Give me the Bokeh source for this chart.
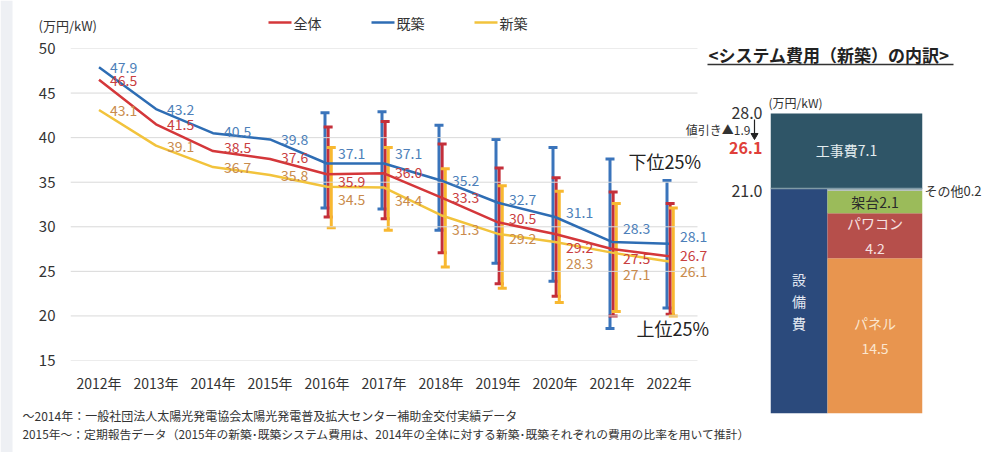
from bokeh.plotting import figure
from bokeh.models import (FactorRange, Range1d, ColumnDataSource, Whisker, TeeHead,
                          GridBox, FixedTicker)
from bokeh.transform import dodge
from bokeh.core.properties import value
from bokeh.embed import file_html
from bokeh.resources import INLINE

# ---------------- data ----------------
years = ["2012年", "2013年", "2014年", "2015年", "2016年", "2017年",
         "2018年", "2019年", "2020年", "2021年", "2022年"]
total = [46.5, 41.5, 38.5, 37.6, 35.9, 36.0, 33.3, 30.5, 29.2, 27.5, 26.7]      # 全体
existing = [47.9, 43.2, 40.5, 39.8, 37.1, 37.1, 35.2, 32.7, 31.1, 28.3, 28.1]   # 既築
new = [43.1, 39.1, 36.7, 35.8, 34.5, 34.4, 31.3, 29.2, 28.3, 27.1, 26.1]        # 新築
series_names = ["全体", "既築", "新築"]

err_years = years[4:]
existing_hi = [42.8, 42.9, 41.4, 39.8, 38.9, 37.6, 35.2]
existing_lo = [32.1, 32.0, 29.6, 25.9, 23.9, 18.6, 20.9]
total_hi = [41.2, 41.8, 39.3, 36.6, 35.5, 33.9, 32.6]
total_lo = [31.1, 30.9, 27.1, 23.6, 22.2, 20.0, 20.2]
new_hi = [38.9, 38.9, 36.5, 34.6, 34.0, 32.6, 32.1]
new_lo = [29.9, 29.6, 25.5, 23.1, 21.5, 20.5, 20.0]

y_ticks = [15, 20, 25, 30, 35, 40, 45, 50]

# label vertical nudges (pixels, downward)
existing_dy = [0, 0, -2, 0, -10, -10, 0, -3, -4, -13, -7]
total_dy = [1, 0, -4, -2, 7, -1, 0, -4, 14, 9, -1]
new_dy = [0, 1, 0, 0, 13, 13, 14, 5, 22, 22, 10]

# breakdown (new build system cost)
parts = ["パネル", "パワコン", "架台", "その他"]
part_values = [14.5, 4.2, 2.1, 0.2]
construction = 7.1
before_discount = 28.0
discount = 1.9
after_discount = 26.1
equipment = 21.0

FONT = "Noto Sans CJK JP"
W, H = 984, 452

C_BLUE, C_RED, C_YEL = "#2e6db4", "#d4373a", "#f2c33c"
E_BLUE, E_RED, E_YEL = "#3a74bb", "#c42f3a", "#f8b830"
L_BLUE, L_RED, L_YEL = "#4d7fb9", "#c9403f", "#c98b4c"

# ---------------- main chart ----------------
# one blank slot after the last year leaves room for the last value labels
p = figure(width=W, height=H, x_range=FactorRange(factors=years + [" "]), y_range=Range1d(15, 50),
           output_backend="svg", toolbar_location=None,
           min_border_left=70, min_border_right=W - 754, min_border_top=48, min_border_bottom=H - 360,
           background_fill_color=None, border_fill_color="white")
p.frame_align = False
p.outline_line_color = None
p.grid.visible = False
p.yaxis.ticker = FixedTicker(ticks=y_ticks)
for ax in (p.xaxis, p.yaxis):
    ax.axis_line_color = None
    ax.major_tick_line_color = None
    ax.minor_tick_line_color = None
    ax.major_label_text_font = FONT
    ax.major_label_text_color = "#333333"
p.yaxis.major_label_text_font_size = "15px"
p.yaxis.major_label_standoff = 9
p.xaxis.major_label_text_font_size = "14px"
p.xaxis.major_label_standoff = 6

# horizontal gridlines spanning the year slots only
gsrc = ColumnDataSource(dict(a=[years[0]] * len(y_ticks), b=[years[-1]] * len(y_ticks), y=y_ticks))
p.segment(x0=dodge("a", -0.5, range=p.x_range), x1=dodge("b", 0.5, range=p.x_range),
          y0="y", y1="y", source=gsrc, line_color="#d9d9d9", line_width=1)

src = ColumnDataSource(dict(year=years, total=total, existing=existing, new=new,
                            edy=existing_dy, tdy=total_dy, ndy=new_dy,
                            etxt=[f"{v:.1f}" for v in existing],
                            ttxt=[f"{v:.1f}" for v in total],
                            ntxt=[f"{v:.1f}" for v in new]))

p.line("year", "total", source=src, line_color=C_RED, line_width=2.5)
p.line("year", "existing", source=src, line_color=C_BLUE, line_width=2.5)
p.line("year", "new", source=src, line_color=C_YEL, line_width=2.5)

esrc = ColumnDataSource(dict(year=err_years, ehi=existing_hi, elo=existing_lo,
                             thi=total_hi, tlo=total_lo, nhi=new_hi, nlo=new_lo))
for hi, lo, col, off in (("ehi", "elo", E_BLUE, -0.035), ("thi", "tlo", E_RED, 0.02),
                         ("nhi", "nlo", E_YEL, 0.075)):
    w = Whisker(source=esrc, base=dodge("year", off, range=p.x_range), upper=hi, lower=lo,
                line_color=col, line_width=3,
                upper_head=TeeHead(size=9, line_color=col, line_width=3),
                lower_head=TeeHead(size=9, line_color=col, line_width=3))
    p.add_layout(w)

for col_txt, col_val, col_dy, colr in (("etxt", "existing", "edy", L_BLUE),
                                       ("ttxt", "total", "tdy", L_RED),
                                       ("ntxt", "new", "ndy", L_YEL)):
    p.text(x="year", y=col_val, text=col_txt, source=src, x_offset=11, y_offset=col_dy,
           text_font=value(FONT), text_font_size="14px", text_color=colr,
           text_align="left", text_baseline="middle")

# ---------------- breakdown bar (transparent overlay figure) ----------------
pb = figure(width=W, height=H, x_range=Range1d(0, 1), y_range=Range1d(0, before_discount),
            x_axis_type=None, y_axis_type=None, output_backend="svg", toolbar_location=None,
            min_border_left=770, min_border_right=W - 922, min_border_top=113, min_border_bottom=H - 413,
            background_fill_color=None, border_fill_color=None)
pb.frame_align = False
pb.outline_line_color = None
pb.grid.visible = False

split = 57 / 152
bottoms = []
acc = 0.0
for v in part_values:
    bottoms.append(acc)
    acc += v
tops = [b + v for b, v in zip(bottoms, part_values)]
part_colors = ["#e8954f", "#b64f4b", "#9bbb5a", "#a9b4b8"]

pb.quad(left=[0], right=[split], bottom=[0], top=[equipment], fill_color="#2b4a7c", line_color=None)
pb.quad(left=[split] * 4, right=[1] * 4, bottom=bottoms, top=tops, fill_color=part_colors, line_color=None)
pb.quad(left=[0], right=[1], bottom=[equipment], top=[equipment + construction],
        fill_color="#2f5567", line_color=None)
pb.segment(x0=[0], x1=[1], y0=[equipment], y1=[equipment], line_color="#7f9aa6", line_width=1.5)

mid = (split + 1) / 2
pb.text(x=[0.5], y=[equipment + construction / 2], text=[f"工事費{construction}"],
        text_font=value(FONT), text_font_size="14px", text_color="#e3ecef",
        text_align="center", text_baseline="middle")
pb.text(x=[mid], y=[(bottoms[2] + tops[2]) / 2], text=[f"{parts[2]}{part_values[2]}"],
        text_font=value(FONT), text_font_size="14px", text_color="#2a2a2a",
        text_align="center", text_baseline="middle")
pb.text(x=[mid], y=[(bottoms[1] + tops[1]) / 2], text=[f"{parts[1]}\n{part_values[1]}"],
        text_font=value(FONT), text_font_size="14px", text_color="#f6e2e2",
        text_align="center", text_baseline="middle", text_line_height=1.25)
pb.text(x=[mid], y=[(bottoms[0] + tops[0]) / 2], text=[f"{parts[0]}\n{part_values[0]}"],
        text_font=value(FONT), text_font_size="14px", text_color="#fbe6cf",
        text_align="center", text_baseline="middle", text_line_height=1.25)
pb.text(x=[split / 2], y=[equipment / 2], text=["設\n備\n費"],
        text_font=value(FONT), text_font_size="14px", text_color="#e3e9f2",
        text_align="center", text_baseline="middle", text_line_height=1.1)

# ---------------- annotation layer (page-pixel frame, transparent) ----------------
pt = figure(width=W, height=H, x_range=Range1d(0, W), y_range=Range1d(H, 0),
            x_axis_type=None, y_axis_type=None, output_backend="svg", toolbar_location=None,
            min_border=0, min_border_left=0, min_border_right=0, min_border_top=0, min_border_bottom=0,
            background_fill_color=None, border_fill_color=None)
pt.frame_align = False
pt.outline_line_color = None
pt.grid.visible = False


def lab(x, y, text, size, color="#333333", align="left", style="normal"):
    pt.text(x=[x], y=[y], text=[text], text_font=value(FONT), text_font_size=size,
            text_color=color, text_align=align, text_baseline="middle", text_font_style=style)


# side strip of the page frame
pt.quad(left=[0], right=[12], bottom=[H], top=[0], fill_color="#eef0f4", line_color=None)

# legend
for lx, name, colr in ((268, series_names[0], C_RED), (371, series_names[1], C_BLUE),
                       (474, series_names[2], C_YEL)):
    pt.segment(x0=[lx], x1=[lx + 23], y0=[22], y1=[22], line_color=colr, line_width=2.5)
    lab(lx + 25, 22, name, "14px")

lab(38, 25, "(万円/kW)", "13px")
lab(628, 160, "下位25%", "18px", "#222222")
lab(636, 327, "上位25%", "18px", "#222222")
lab(22, 415, "～2014年：一般社団法人太陽光発電協会太陽光発電普及拡大センター補助金交付実績データ", "12px")
lab(22, 433, "2015年～：定期報告データ（2015年の新築･既築システム費用は、2014年の全体に対する新築･既築それぞれの費用の比率を用いて推計）", "11.8px")

lab(708, 54, "<システム費用（新築）の内訳>", "17px", "#222222", style="bold")
pt.segment(x0=[707], x1=[953], y0=[64], y1=[64], line_color="#333333", line_width=1.5)
lab(768, 102, "(万円/kW)", "12px")
lab(762, 112, f"{before_discount:.1f}", "16px", align="right")
lab(750, 129, f"値引き▲{discount}", "12px", align="right")
pt.segment(x0=[754], x1=[754], y0=[119], y1=[133], line_color="#222222", line_width=1.2)
pt.scatter(x=[754], y=[135], marker="inverted_triangle", size=7, fill_color="#222222", line_color="#222222")
lab(762, 147, f"{after_discount:.1f}", "16px", "#e0403a", align="right", style="bold")
lab(762, 190, f"{equipment:.1f}", "16px", align="right")
lab(924, 190, f"{parts[3]}{part_values[3]}", "13px")

layout = GridBox(children=[(p, 0, 0), (pb, 0, 0), (pt, 0, 0)])
open("out.html", "w").write(file_html(layout, INLINE))
